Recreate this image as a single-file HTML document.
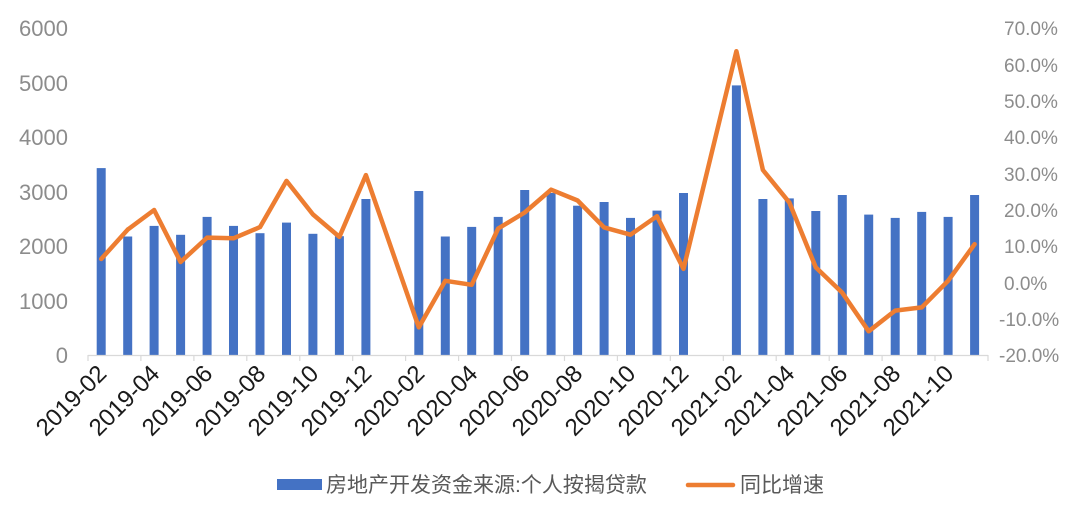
<!DOCTYPE html>
<html><head><meta charset="utf-8"><style>
html,body{margin:0;padding:0;background:#fff;}
svg{display:block;}
text{font-family:"Liberation Sans","Noto Sans CJK SC",sans-serif;}
</style></head><body>
<svg width="1080" height="507" viewBox="0 0 1080 507" xmlns="http://www.w3.org/2000/svg">
<g fill="#8c8c8c" font-size="22" text-anchor="end">
<text x="68" y="36">6000</text>
<text x="68" y="91">5000</text>
<text x="68" y="145">4000</text>
<text x="68" y="200">3000</text>
<text x="68" y="254">2000</text>
<text x="68" y="309">1000</text>
<text x="68" y="363">0</text>
</g>
<g fill="#8c8c8c" font-size="19" text-anchor="start">
<text x="1004" y="35">70.0%</text>
<text x="1004" y="72">60.0%</text>
<text x="1004" y="108">50.0%</text>
<text x="1004" y="144">40.0%</text>
<text x="1004" y="181">30.0%</text>
<text x="1004" y="217">20.0%</text>
<text x="1004" y="253">10.0%</text>
<text x="1004" y="290">0.0%</text>
<text x="999" y="326">-10.0%</text>
<text x="999" y="362">-20.0%</text>
</g>
<g fill="#4472c4">
<rect x="96.7" y="168.1" width="9" height="186.9"/>
<rect x="123.2" y="236.5" width="9" height="118.5"/>
<rect x="149.6" y="225.9" width="9" height="129.1"/>
<rect x="176.1" y="234.8" width="9" height="120.2"/>
<rect x="202.6" y="216.9" width="9" height="138.1"/>
<rect x="229.0" y="225.9" width="9" height="129.1"/>
<rect x="255.5" y="233.2" width="9" height="121.8"/>
<rect x="282.0" y="222.6" width="9" height="132.4"/>
<rect x="308.4" y="233.8" width="9" height="121.2"/>
<rect x="334.9" y="236.2" width="9" height="118.8"/>
<rect x="361.4" y="199.0" width="9" height="156.0"/>
<rect x="414.3" y="191.0" width="9" height="164.0"/>
<rect x="440.8" y="236.5" width="9" height="118.5"/>
<rect x="467.2" y="226.9" width="9" height="128.1"/>
<rect x="493.7" y="216.9" width="9" height="138.1"/>
<rect x="520.2" y="190.0" width="9" height="165.0"/>
<rect x="546.6" y="193.0" width="9" height="162.0"/>
<rect x="573.1" y="205.7" width="9" height="149.3"/>
<rect x="599.6" y="202.0" width="9" height="153.0"/>
<rect x="626.0" y="217.9" width="9" height="137.1"/>
<rect x="652.5" y="210.6" width="9" height="144.4"/>
<rect x="679.0" y="193.0" width="9" height="162.0"/>
<rect x="731.9" y="85.4" width="9" height="269.6"/>
<rect x="758.4" y="199.0" width="9" height="156.0"/>
<rect x="784.8" y="198.4" width="9" height="156.6"/>
<rect x="811.3" y="211.0" width="9" height="144.0"/>
<rect x="837.8" y="195.0" width="9" height="160.0"/>
<rect x="864.2" y="214.6" width="9" height="140.4"/>
<rect x="890.7" y="217.9" width="9" height="137.1"/>
<rect x="917.2" y="211.9" width="9" height="143.1"/>
<rect x="943.6" y="216.9" width="9" height="138.1"/>
<rect x="970.1" y="195.0" width="9" height="160.0"/>
</g>
<g stroke="#d9d9d9" stroke-width="1.2">
<line x1="88" y1="355.5" x2="988" y2="355.5"/>
<path d="M88 355v6M140.9 355v6M193.9 355v6M246.8 355v6M299.8 355v6M352.7 355v6M405.6 355v6M458.6 355v6M511.5 355v6M564.5 355v6M617.4 355v6M670.3 355v6M723.3 355v6M776.2 355v6M829.2 355v6M882.1 355v6M935.0 355v6M988 355v6"/>
</g>
<polyline fill="none" stroke="#ed7d31" stroke-width="4.5" stroke-linejoin="round" stroke-linecap="round"
points="101.2,259.0 127.7,229.6 154.1,210.0 180.6,262.0 207.1,237.6 233.5,238.3 260.0,227.1 286.5,180.9 312.9,214.4 339.4,236.9 365.9,175.1 418.8,327.4 445.3,280.8 471.7,284.8 498.2,228.5 524.7,212.5 551.1,189.7 577.6,200.5 604.1,227.4 630.5,234.7 657.0,216.2 683.5,268.9 736.4,51.2 762.9,170.0 789.3,202.4 815.8,267.4 842.3,292.8 868.7,331.3 895.2,310.6 921.7,307.4 948.1,280.8 974.6,244.2"/>
<g fill="#1a1a1a" font-size="24" text-anchor="end">
<text transform="translate(108,375) rotate(-45)">2019-02</text>
<text transform="translate(161,375) rotate(-45)">2019-04</text>
<text transform="translate(214,375) rotate(-45)">2019-06</text>
<text transform="translate(267,375) rotate(-45)">2019-08</text>
<text transform="translate(320,375) rotate(-45)">2019-10</text>
<text transform="translate(373,375) rotate(-45)">2019-12</text>
<text transform="translate(426,375) rotate(-45)">2020-02</text>
<text transform="translate(479,375) rotate(-45)">2020-04</text>
<text transform="translate(531,375) rotate(-45)">2020-06</text>
<text transform="translate(584,375) rotate(-45)">2020-08</text>
<text transform="translate(637,375) rotate(-45)">2020-10</text>
<text transform="translate(690,375) rotate(-45)">2020-12</text>
<text transform="translate(743,375) rotate(-45)">2021-02</text>
<text transform="translate(796,375) rotate(-45)">2021-04</text>
<text transform="translate(849,375) rotate(-45)">2021-06</text>
<text transform="translate(902,375) rotate(-45)">2021-08</text>
<text transform="translate(955,375) rotate(-45)">2021-10</text>
</g>
<rect x="277" y="479" width="45" height="11" fill="#4472c4"/>
<text x="326" y="492" font-size="21" fill="#595959">房地产开发资金来源:个人按揭贷款</text>
<line x1="688" y1="485" x2="733" y2="485" stroke="#ed7d31" stroke-width="4.5" stroke-linecap="round"/>
<text x="740" y="492" font-size="21" fill="#595959">同比增速</text>
</svg>
</body></html>
